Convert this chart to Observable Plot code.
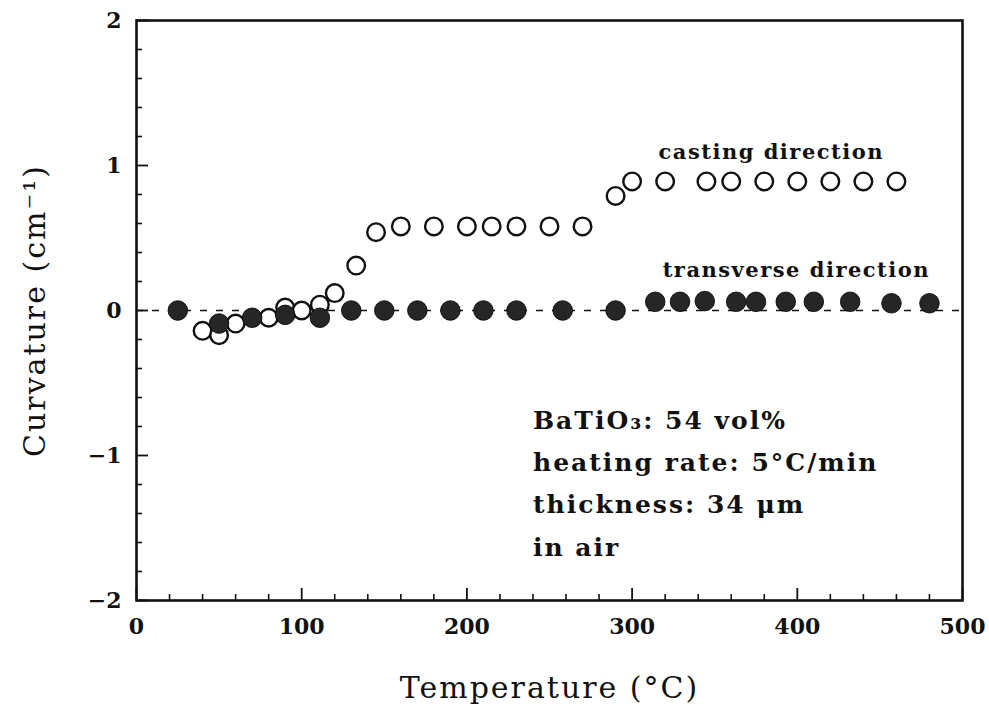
<!DOCTYPE html>
<html>
<head>
<meta charset="utf-8">
<script src="https://cdn.jsdelivr.net/npm/d3@7"></script>
<script src="https://cdn.jsdelivr.net/npm/@observablehq/plot@0.6"></script>
<style>
  body { margin: 0; background: #fff; }
  #chart svg { display: block; }
</style>
</head>
<body>
<div id="chart"></div>
<script>
// Curvature of a BaTiO3 tape on heating, measured along two directions.
const castingTemp = [40, 50, 60, 80, 90, 100, 111, 120, 133, 145, 160, 180, 200, 215, 230, 250, 270, 290, 300, 320, 345, 360, 380, 400, 420, 440, 460];
const castingCurv = [-0.14, -0.17, -0.09, -0.05, 0.02, 0.0, 0.04, 0.12, 0.31, 0.54, 0.58, 0.58, 0.58, 0.58, 0.58, 0.58, 0.58, 0.79, 0.89, 0.89, 0.89, 0.89, 0.89, 0.89, 0.89, 0.89, 0.89];

const transverseTemp = [25, 50, 70, 90, 111, 130, 150, 170, 190, 210, 230, 258, 290, 314, 329, 344, 363, 375, 393, 410, 432, 457, 480];
const transverseCurv = [0, -0.09, -0.05, -0.03, -0.05, 0, 0, 0, 0, 0, 0, 0, 0, 0.06, 0.06, 0.065, 0.06, 0.06, 0.06, 0.06, 0.06, 0.05, 0.05];

const xTicks = [0, 100, 200, 300, 400, 500];
const yTicks = [-2, -1, 0, 1, 2];
const xMinorTicks = d3.range(0, 501, 20).filter(v => v % 100 !== 0);
const yMinorTicks = d3.range(-20, 21, 2).map(v => v / 10).filter(v => !Number.isInteger(v));

const seriesNames = ["casting direction", "transverse direction"];
const notes = ["BaTiO₃: 54 vol%", "heating rate: 5°C/min", "thickness: 34 μm", "in air"];
const xTitle = "Temperature (°C)";
const yTitle = "Curvature (cm⁻¹)";

const W = 989, H = 714;
const M = {top: 20, right: 27, bottom: 114, left: 136};
const innerW = W - M.left - M.right;
const innerH = H - M.top - M.bottom;

const serif = "'DejaVu Serif', serif";
const ink = "#111";
const intFormat = d3.format("d");

const chart = Plot.plot({
  width: W,
  height: H,
  marginTop: M.top,
  marginRight: M.right,
  marginBottom: M.bottom,
  marginLeft: M.left,
  style: {background: "#fff", color: ink, fontFamily: serif},
  x: {domain: [0, 500]},
  y: {domain: [-2, 2]},
  marks: [
    // zero reference line
    Plot.ruleY([0], {stroke: ink, strokeWidth: 1.6, strokeDasharray: "7,9"}),

    // inward ticks along the bottom and left edges
    Plot.tickX(xTicks, {x: d => d, insetTop: innerH - 12, stroke: ink, strokeWidth: 1.8}),
    Plot.tickX(xMinorTicks, {x: d => d, insetTop: innerH - 6, stroke: ink, strokeWidth: 1.6}),
    Plot.tickY(yTicks, {y: d => d, insetRight: innerW - 12, stroke: ink, strokeWidth: 1.8}),
    Plot.tickY(yMinorTicks, {y: d => d, insetRight: innerW - 6, stroke: ink, strokeWidth: 1.6}),

    // tick labels
    Plot.axisX(xTicks, {tickSize: 0, tickPadding: 18, tickFormat: intFormat, fontSize: 22, fontWeight: "bold", fontFamily: serif, label: null}),
    Plot.axisY(yTicks, {tickSize: 0, tickPadding: 15, tickFormat: intFormat, fontSize: 22, fontWeight: "bold", fontFamily: serif, label: null}),

    // casting direction: open circles
    Plot.dot(castingCurv, {x: castingTemp, y: castingCurv, r: 8.8, fill: "#fff", stroke: ink, strokeWidth: 2.4}),
    // transverse direction: filled circles
    Plot.dot(transverseCurv, {x: transverseTemp, y: transverseCurv, r: 9.8, fill: "#262626", stroke: "#000", strokeWidth: 0.8}),

    Plot.frame({stroke: ink, strokeWidth: 2.6}),

    // series labels
    Plot.text([seriesNames[0]], {x: 316, y: 1.048, textAnchor: "start", lineAnchor: "bottom", fontSize: 21, fontWeight: "bold", fill: ink}),
    Plot.text([seriesNames[1]], {x: 318.5, y: 0.228, textAnchor: "start", lineAnchor: "bottom", fontSize: 21, fontWeight: "bold", fill: ink}),

    // experimental conditions
    Plot.text([notes.join("\n")], {x: 240, y: -0.61, textAnchor: "start", lineAnchor: "top", lineHeight: 1.69, fontSize: 25, fontWeight: "bold", fill: ink}),

    // axis titles
    Plot.text([xTitle], {frameAnchor: "bottom", dy: 97, textAnchor: "middle", lineAnchor: "bottom", fontSize: 30, fill: ink}),
    Plot.text([yTitle], {frameAnchor: "left", dx: -101, rotate: -90, textAnchor: "middle", lineAnchor: "middle", fontSize: 30, fill: ink})
  ]
});

// Plot has no letter-spacing option, so widen the annotation texts afterwards
const spacing = new Map([
  ...seriesNames.map(s => [s, "1.5px"]),
  [notes.join(""), "2px"],
  [xTitle, "2px"],
  [yTitle, "2px"]
]);
d3.select(chart).selectAll("text").each(function () {
  const ls = spacing.get(this.textContent);
  if (ls) this.style.letterSpacing = ls;
});

document.getElementById("chart").appendChild(chart);
</script>
</body>
</html>
